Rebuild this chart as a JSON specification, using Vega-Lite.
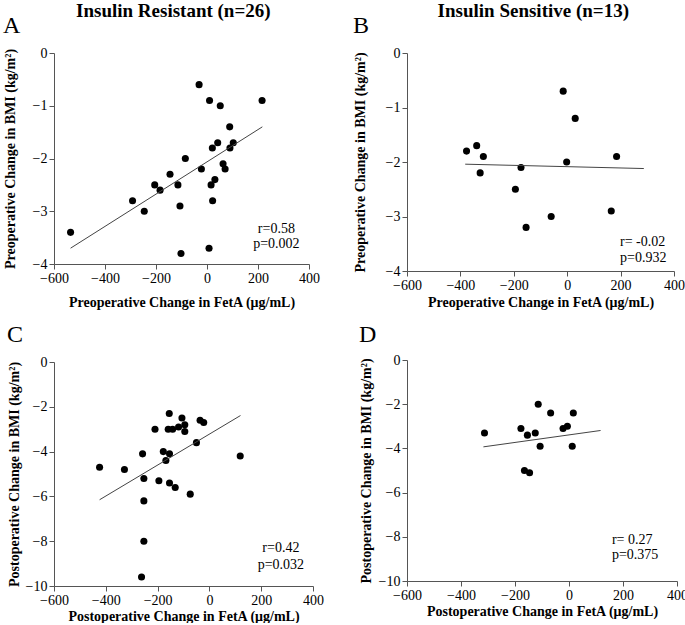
{
  "$schema": "https://vega.github.io/schema/vega-lite/v6.json",
  "padding": {"left": 3, "top": 2, "right": 0, "bottom": 0},
  "background": "white",
  "config": {
    "font": "Liberation Serif",
    "view": {"stroke": null},
    "axis": {
      "grid": false,
      "format": "d",
      "labelFont": "Liberation Serif",
      "labelFontSize": 14,
      "labelColor": "black",
      "titleFont": "Liberation Serif",
      "titleFontSize": 14,
      "titleFontWeight": "bold",
      "titleColor": "black",
      "domainColor": "#555",
      "tickColor": "#555",
      "tickSize": 5,
      "labelFlush": false,
      "labelPadding": 2
    },
    "title": {"font": "Liberation Serif", "color": "black", "fontWeight": "bold", "fontSize": 19}
  },
  "datasets": {
    "A": [
      {"x": -31, "y": -0.6}, {"x": 10, "y": -0.9}, {"x": 52, "y": -1.0}, {"x": 216, "y": -0.9},
      {"x": 89, "y": -1.4}, {"x": 42, "y": -1.7}, {"x": 103, "y": -1.7}, {"x": 21, "y": -1.8},
      {"x": 90, "y": -1.8}, {"x": -85, "y": -2.0}, {"x": -22, "y": -2.2}, {"x": 63, "y": -2.1},
      {"x": 71, "y": -2.2}, {"x": -145, "y": -2.3}, {"x": -205, "y": -2.5}, {"x": -114, "y": -2.5},
      {"x": 16, "y": -2.5}, {"x": 31, "y": -2.4}, {"x": -184, "y": -2.6}, {"x": -292, "y": -2.8},
      {"x": 22, "y": -2.8}, {"x": -106, "y": -2.9}, {"x": -246, "y": -3.0}, {"x": -535, "y": -3.4},
      {"x": -102, "y": -3.8}, {"x": 8, "y": -3.7}
    ],
    "lineA": [{"x": -535, "y": -3.7}, {"x": 217, "y": -1.4}],
    "B": [
      {"x": -15, "y": -0.7}, {"x": 30, "y": -1.2}, {"x": -377, "y": -1.8}, {"x": -339, "y": -1.7},
      {"x": -314, "y": -1.9}, {"x": -326, "y": -2.2}, {"x": -173, "y": -2.1}, {"x": -2, "y": -2.0},
      {"x": 185, "y": -1.9}, {"x": -194, "y": -2.5}, {"x": -60, "y": -3.0}, {"x": -154, "y": -3.2},
      {"x": 165, "y": -2.9}
    ],
    "lineB": [{"x": -382, "y": -2.04}, {"x": 287, "y": -2.12}],
    "C": [
      {"x": -155, "y": -2.3}, {"x": -106, "y": -2.5}, {"x": -210, "y": -3.0}, {"x": -159, "y": -3.0},
      {"x": -142, "y": -3.0}, {"x": -119, "y": -2.9}, {"x": -95, "y": -2.8}, {"x": -95, "y": -3.1},
      {"x": -36, "y": -2.6}, {"x": -22, "y": -2.7}, {"x": -50, "y": -3.6}, {"x": -258, "y": -4.1},
      {"x": -178, "y": -4.0}, {"x": -154, "y": -4.1}, {"x": -168, "y": -4.4}, {"x": 119, "y": -4.2},
      {"x": -424, "y": -4.7}, {"x": -328, "y": -4.8}, {"x": -253, "y": -5.2}, {"x": -195, "y": -5.3},
      {"x": -154, "y": -5.4}, {"x": -132, "y": -5.6}, {"x": -74, "y": -5.9}, {"x": -253, "y": -6.2},
      {"x": -253, "y": -8.0}, {"x": -262, "y": -9.6}
    ],
    "lineC": [{"x": -424, "y": -6.15}, {"x": 120, "y": -2.39}],
    "D": [
      {"x": -114, "y": -2.0}, {"x": -68, "y": -2.4}, {"x": 16, "y": -2.4}, {"x": -178, "y": -3.1},
      {"x": -154, "y": -3.4}, {"x": -125, "y": -3.3}, {"x": -22, "y": -3.1}, {"x": -6, "y": -3.0},
      {"x": -313, "y": -3.3}, {"x": -107, "y": -3.9}, {"x": 12, "y": -3.9}, {"x": -165, "y": -5.0},
      {"x": -146, "y": -5.1}
    ],
    "lineD": [{"x": -317, "y": -3.93}, {"x": 117, "y": -3.19}]
  },
  "spacing": 29,
  "hconcat": [
    {
      "title": {"text": "Insulin Resistant (n=26)", "anchor": "middle", "frame": "bounds", "dx": 10, "offset": -7},
      "spacing": 14,
      "vconcat": [
        {
          "width": 255, "height": 211,
          "title": {"text": "A", "anchor": "start", "frame": "bounds", "fontSize": 24, "fontWeight": "normal", "offset": 8},
          "layer": [
            {
              "data": {"name": "A"},
              "mark": {"type": "circle", "size": 50, "color": "black", "opacity": 1},
              "encoding": {
                "x": {"field": "x", "type": "quantitative", "scale": {"domain": [-600, 400], "nice": false},
                  "axis": {"title": "Preoperative Change in FetA (μg/mL)", "values": [-600, -400, -200, 0, 200, 400], "titlePadding": 10}},
                "y": {"field": "y", "type": "quantitative", "scale": {"domain": [-4, 0], "nice": false},
                  "axis": {"title": "Preoperative Change in BMI (kg/m²)", "values": [-4, -3, -2, -1, 0], "titlePadding": 15}}
              }
            },
            {
              "data": {"name": "lineA"},
              "mark": {"type": "line", "color": "#444", "strokeWidth": 1},
              "encoding": {"x": {"field": "x", "type": "quantitative"}, "y": {"field": "y", "type": "quantitative"}}
            },
            {
              "data": {"values": [{}]},
              "mark": {"type": "text", "text": ["r=0.58", "p=0.002"], "fontSize": 14, "align": "center", "baseline": "middle", "lineHeight": 15, "color": "black"},
              "encoding": {"x": {"datum": 272}, "y": {"datum": -3.33}}
            }
          ]
        },
        {
          "width": 259, "height": 224,
          "title": {"text": "C", "anchor": "start", "frame": "bounds", "fontSize": 24, "fontWeight": "normal", "offset": 8},
          "layer": [
            {
              "data": {"name": "C"},
              "mark": {"type": "circle", "size": 50, "color": "black", "opacity": 1},
              "encoding": {
                "x": {"field": "x", "type": "quantitative", "scale": {"domain": [-600, 400], "nice": false},
                  "axis": {"title": "Postoperative Change in FetA (μg/mL)", "values": [-600, -400, -200, 0, 200, 400], "titlePadding": 2}},
                "y": {"field": "y", "type": "quantitative", "scale": {"domain": [-10, 0], "nice": false},
                  "axis": {"title": "Postoperative Change in BMI (kg/m²)", "values": [-10, -8, -6, -4, -2, 0], "titlePadding": 4}}
              }
            },
            {
              "data": {"name": "lineC"},
              "mark": {"type": "line", "color": "#444", "strokeWidth": 1},
              "encoding": {"x": {"field": "x", "type": "quantitative"}, "y": {"field": "y", "type": "quantitative"}}
            },
            {
              "data": {"values": [{}]},
              "mark": {"type": "text", "text": ["r=0.42", "p=0.032"], "fontSize": 14, "align": "center", "baseline": "middle", "lineHeight": 17, "color": "black"},
              "encoding": {"x": {"datum": 276}, "y": {"datum": -8.29}}
            }
          ]
        }
      ]
    },
    {
      "title": {"text": "Insulin Sensitive (n=13)", "anchor": "middle", "frame": "bounds", "dx": 13, "offset": -7, "fontWeight": 900},
      "spacing": 14,
      "vconcat": [
        {
          "width": 267, "height": 218,
          "title": {"text": "B", "anchor": "start", "frame": "bounds", "fontSize": 24, "fontWeight": "normal", "offset": 8},
          "layer": [
            {
              "data": {"name": "B"},
              "mark": {"type": "circle", "size": 50, "color": "black", "opacity": 1},
              "encoding": {
                "x": {"field": "x", "type": "quantitative", "scale": {"domain": [-600, 400], "nice": false},
                  "axis": {"title": "Preoperative Change in FetA (μg/mL)", "values": [-600, -400, -200, 0, 200, 400], "titlePadding": 3}},
                "y": {"field": "y", "type": "quantitative", "scale": {"domain": [-4, 0], "nice": false},
                  "axis": {"title": "Preoperative Change in BMI (kg/m²)", "values": [-4, -3, -2, -1, 0], "titlePadding": 18}}
              }
            },
            {
              "data": {"name": "lineB"},
              "mark": {"type": "line", "color": "#444", "strokeWidth": 1},
              "encoding": {"x": {"field": "x", "type": "quantitative"}, "y": {"field": "y", "type": "quantitative"}}
            },
            {
              "data": {"values": [{}]},
              "mark": {"type": "text", "text": ["r= -0.02", "p=0.932"], "fontSize": 14, "align": "left", "baseline": "middle", "lineHeight": 16, "color": "black"},
              "encoding": {"x": {"datum": 198}, "y": {"datum": -3.46}}
            }
          ]
        },
        {
          "width": 270, "height": 221,
          "title": {"text": "D", "anchor": "start", "frame": "bounds", "fontSize": 24, "fontWeight": "normal", "offset": 6},
          "layer": [
            {
              "data": {"name": "D"},
              "mark": {"type": "circle", "size": 50, "color": "black", "opacity": 1},
              "encoding": {
                "x": {"field": "x", "type": "quantitative", "scale": {"domain": [-600, 400], "nice": false},
                  "axis": {"title": "Postoperative Change in FetA (μg/mL)", "values": [-600, -400, -200, 0, 200, 400], "titlePadding": 2}},
                "y": {"field": "y", "type": "quantitative", "scale": {"domain": [-10, 0], "nice": false},
                  "axis": {"title": "Postoperative Change in BMI (kg/m²)", "values": [-10, -8, -6, -4, -2, 0], "titlePadding": 5}}
              }
            },
            {
              "data": {"name": "lineD"},
              "mark": {"type": "line", "color": "#444", "strokeWidth": 1},
              "encoding": {"x": {"field": "x", "type": "quantitative"}, "y": {"field": "y", "type": "quantitative"}}
            },
            {
              "data": {"values": [{}]},
              "mark": {"type": "text", "text": ["r= 0.27", "p=0.375"], "fontSize": 14, "align": "left", "baseline": "middle", "lineHeight": 15, "color": "black"},
              "encoding": {"x": {"datum": 159}, "y": {"datum": -8.14}}
            }
          ]
        }
      ]
    }
  ]
}
